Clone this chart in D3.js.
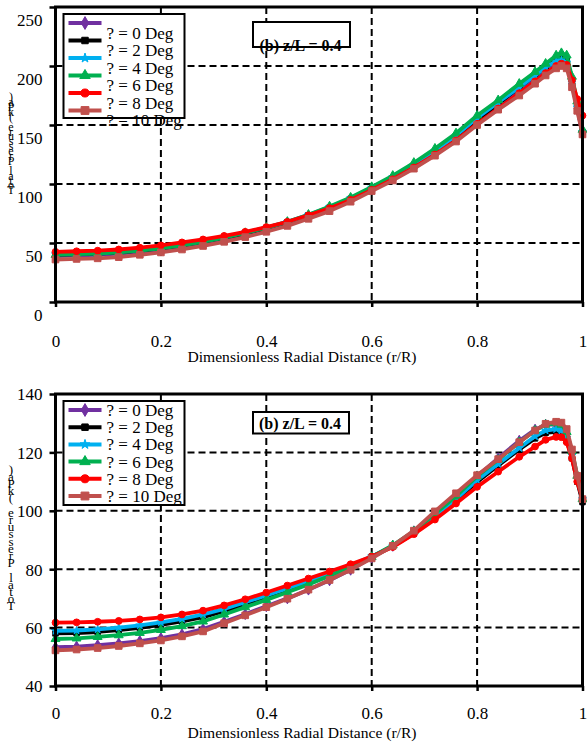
<!DOCTYPE html>
<html>
<head>
<meta charset="utf-8">
<script src="https://cdn.jsdelivr.net/npm/d3@7"></script>
<style>
  body { margin: 0; background: #fff; }
  svg { display: block; font-family: "Liberation Serif", "Times New Roman", serif; }
</style>
</head>
<body>
<svg id="chart" width="587" height="745"></svg>
<script>
// Dimensionless radial positions of the sampled points (r/R)
const radialPos = [0, 0.04, 0.08, 0.12, 0.16, 0.20, 0.24, 0.28, 0.32, 0.36, 0.40, 0.44, 0.48, 0.52, 0.56,
                   0.60, 0.64, 0.68, 0.72, 0.76, 0.80, 0.84, 0.88, 0.91, 0.93, 0.95, 0.96, 0.97, 0.98, 0.99, 1.0];

const seriesNames = ["? = 0 Deg", "? = 2 Deg", "? = 4 Deg", "? = 6 Deg", "? = 8 Deg", "? = 10 Deg"];

// Upper panel: total pressure (kPa)
const upper0  = [39, 39.5, 40, 41, 42.5, 44.5, 47, 50, 53.5, 57.5, 62, 67, 73, 79.5, 87, 96, 105, 115, 127, 140, 154, 167, 180, 190, 197, 203, 205, 203, 185, 164, 143];
const upper2  = [40, 40.5, 41, 42, 43.5, 45.5, 48, 51, 54.5, 58, 62.5, 67.5, 73.5, 80, 87.5, 96, 105, 115, 127, 140, 154, 168, 182, 192, 199, 205, 207, 205, 187, 165, 144];
const upper4  = [40.5, 41, 41.5, 42.5, 44, 46, 48.5, 51.5, 55, 59, 63, 68, 74, 80.5, 88, 97, 106, 116, 128, 141, 156, 169, 182, 192, 199, 204, 205, 203, 186, 165, 144];
const upper6  = [40, 40.5, 41, 42, 43.5, 45.5, 48, 51, 54.5, 58.5, 63, 68, 74, 81, 88.5, 97.5, 107, 118, 130, 143, 158, 171, 185, 195, 202, 209, 211, 209, 191, 170, 146];
const upper8  = [42.5, 43, 43.5, 44.5, 46, 48, 50.5, 53, 56, 59.5, 63.5, 68, 73.5, 79.5, 86.5, 95, 104, 114, 125, 137, 151, 164, 177, 187, 194, 200, 202, 201, 188, 172, 158];
const upper10 = [36, 36.5, 37, 38, 40, 42, 44.5, 47.5, 51, 55, 59.5, 64.5, 70.5, 77, 85, 94, 103, 113, 124, 136, 150, 163, 175, 185, 192, 198, 200, 198, 182, 162, 142];

// Lower panel: total pressure (kPa)
const lower0  = [53.3, 53.5, 54.0, 54.6, 55.4, 56.4, 57.7, 59.5, 62.0, 64.6, 67.3, 70.0, 73.0, 76.2, 79.8, 84.0, 88.0, 93.0, 99.0, 105.2, 111.8, 118.0, 124.0, 127.8, 129.5, 129.5, 129.0, 126.5, 120.0, 111.5, 103.0];
const lower2  = [58.0, 58.1, 58.5, 59.1, 59.9, 60.9, 62.1, 63.6, 65.6, 67.8, 70.2, 72.7, 75.3, 78.1, 81.1, 84.3, 87.8, 92.2, 97.8, 103.5, 109.9, 115.5, 121.0, 124.8, 126.7, 127.0, 126.5, 124.0, 118.0, 110.0, 103.0];
const lower4  = [58.9, 59.0, 59.4, 60.0, 60.8, 61.8, 63.0, 64.5, 66.4, 68.7, 71.0, 73.4, 75.9, 78.5, 81.3, 84.4, 88.0, 92.5, 98.2, 104.0, 110.5, 116.0, 121.5, 125.5, 127.5, 128.0, 127.5, 125.0, 119.0, 111.0, 104.0];
const lower6  = [56.1, 56.3, 56.8, 57.4, 58.2, 59.2, 60.5, 62.1, 64.5, 67.0, 69.5, 72.1, 74.8, 77.7, 80.8, 84.2, 88.2, 93.0, 99.0, 105.0, 111.8, 117.5, 123.5, 127.5, 129.5, 130.0, 129.5, 127.0, 120.5, 112.0, 104.0];
const lower8  = [61.7, 61.8, 62.0, 62.3, 62.8, 63.5, 64.5, 65.8, 67.6, 69.7, 72.0, 74.4, 76.8, 79.2, 81.7, 84.3, 87.6, 92.0, 97.0, 102.5, 108.2, 113.4, 118.5, 122.0, 124.3, 125.3, 125.2, 123.5, 118.0, 110.0, 104.0];
const lower10 = [52.2, 52.5, 53.0, 53.7, 54.6, 55.6, 57.0, 58.7, 61.5, 64.2, 67.0, 69.9, 73.0, 76.3, 79.8, 83.7, 88.0, 93.2, 99.8, 106.0, 112.2, 117.7, 123.5, 127.5, 129.8, 130.5, 130.2, 128.0, 121.0, 112.0, 104.0];

// Axis ticks
const xTicks = [0, 0.2, 0.4, 0.6, 0.8, 1];
const xTickLabels = ["0", "0.2", "0.4", "0.6", "0.8", "1"];
const upperYTicks = [0, 50, 100, 150, 200, 250];
const lowerYTicks = [40, 60, 80, 100, 120, 140];
const xTitle = "Dimensionless Radial Distance (r/R)";
const yTitle = "Total Pressure (kPa)";
const panelTag = "(b) z/L = 0.4";

// Series styling
const colors = ["#7030A0", "#000000", "#00B0F0", "#00B050", "#FF0000", "#C0504D"];
const markers = [d3.symbolDiamond, d3.symbolSquare, d3.symbolStar, d3.symbolTriangle, d3.symbolCircle, d3.symbolSquare];
const markerSizes = [34, 30, 20, 34, 36, 44];

const svg = d3.select("#chart");
const xRange = [55.5, 582.5];

function drawPanel(cfg) {
  const x = d3.scaleLinear().domain([0, 1]).range(xRange);
  const y = d3.scaleLinear().domain(cfg.yDomain).range(cfg.yRange);
  const g = svg.append("g");

  // dashed gridlines
  const grid = g.append("g").attr("stroke", "#000").attr("stroke-width", 2).attr("stroke-dasharray", "7,4");
  grid.selectAll("line.vx").data(xTicks.slice(1, -1)).join("line")
    .attr("x1", d => x(d)).attr("x2", d => x(d))
    .attr("y1", cfg.yRange[1]).attr("y2", cfg.yRange[0]);
  grid.selectAll("line.hy").data(cfg.yTicks.slice(1, -1)).join("line")
    .attr("x1", xRange[0]).attr("x2", xRange[1])
    .attr("y1", d => y(d)).attr("y2", d => y(d));

  // curves
  const line = d3.line().x((d, i) => x(radialPos[i])).y(d => y(d));
  cfg.series.forEach((vals, k) => {
    g.append("path").datum(vals)
      .attr("fill", "none").attr("stroke", colors[k]).attr("stroke-width", 3.8)
      .attr("stroke-linejoin", "round").attr("d", line);
    g.append("g").selectAll("path").data(vals).join("path")
      .attr("transform", (d, i) => `translate(${x(radialPos[i])},${y(d)})`)
      .attr("d", d3.symbol().type(markers[k]).size(markerSizes[k]))
      .attr("fill", colors[k]).attr("stroke", colors[k]).attr("stroke-width", 1);
  });

  // frame
  g.append("rect")
    .attr("x", xRange[0]).attr("y", cfg.yRange[1])
    .attr("width", xRange[1] - xRange[0]).attr("height", cfg.yRange[0] - cfg.yRange[1])
    .attr("fill", "none").attr("stroke", "#000").attr("stroke-width", 3);

  // y axis ticks and labels
  const yAxis = d3.axisLeft(y).tickValues(cfg.yTicks).tickSize(6).tickFormat(d3.format("d"));
  const ya = g.append("g").attr("transform", `translate(${xRange[0]},0)`).call(yAxis);
  ya.select(".domain").remove();
  ya.selectAll(".tick line").attr("stroke", "#000").attr("stroke-width", 2.5);
  ya.selectAll(".tick text")
    .attr("x", -13).attr("dy", "0.35em")
    .attr("transform", `translate(0,${cfg.labelShift})`)
    .attr("font-size", 17).attr("font-family", "Liberation Serif").attr("fill", "#000");

  // x axis ticks and labels
  const xAxis = d3.axisBottom(x).tickValues(xTicks).tickSize(5).tickFormat((d, i) => xTickLabels[i]);
  const xa = g.append("g").attr("transform", `translate(0,${cfg.yRange[0]})`).call(xAxis);
  xa.select(".domain").remove();
  xa.selectAll(".tick line").attr("stroke", "#000").attr("stroke-width", 2.5);
  xa.selectAll(".tick text")
    .attr("y", cfg.xLabelY - cfg.yRange[0]).attr("dy", "0.35em")
    .attr("font-size", 17).attr("font-family", "Liberation Serif").attr("fill", "#000");

  // x title
  g.append("text").attr("x", 302).attr("y", cfg.xTitleY).attr("dy", "0.35em")
    .attr("text-anchor", "middle").attr("font-size", 15.6).text(xTitle);

  // y title: upright letters stacked from the bottom up
  const chars = Array.from(yTitle).reverse();
  g.append("g").selectAll("text").data(chars).join("text")
    .attr("x", 11)
    .attr("y", (d, i) => cfg.yTitleTop + i * cfg.yTitleStep)
    .attr("dy", "0.35em").attr("text-anchor", "middle").attr("font-size", cfg.yTitleSize)
    .text(d => d);

  // tag box
  g.append("rect").attr("x", cfg.tag.x).attr("y", cfg.tag.y)
    .attr("width", cfg.tag.w).attr("height", cfg.tag.h)
    .attr("fill", "#fff").attr("stroke", "#000").attr("stroke-width", 2);
  g.append("text").attr("x", cfg.tag.x + cfg.tag.w / 2 - 1).attr("y", cfg.tag.textY).attr("dy", "0.35em")
    .attr("text-anchor", "middle").attr("font-size", 16).attr("font-weight", "bold")
    .attr("font-family", "Liberation Serif").text(panelTag);

  // legend
  const L = cfg.legend;
  g.append("rect").attr("x", L.x).attr("y", L.y).attr("width", L.w).attr("height", L.h)
    .attr("fill", "#fff").attr("stroke", "#000").attr("stroke-width", 2);
  seriesNames.forEach((name, k) => {
    const ly = L.rowY + k * L.step;
    g.append("line").attr("x1", L.x + 5).attr("x2", L.x + 38).attr("y1", ly).attr("y2", ly)
      .attr("stroke", colors[k]).attr("stroke-width", 4);
    g.append("path").attr("transform", `translate(${L.x + 21.5},${ly})`)
      .attr("d", d3.symbol().type(markers[k]).size(markerSizes[k] * 1.4))
      .attr("fill", colors[k]).attr("stroke", colors[k]);
    g.append("text").attr("x", L.x + 43).attr("y", ly + L.textShift).attr("dy", "0.35em")
      .attr("font-size", 17).text(name);
  });
}

drawPanel({
  yDomain: [0, 250], yRange: [302, 7], yTicks: upperYTicks, labelShift: 13,
  xLabelY: 341, xTitleY: 357, yTitleTop: 97, yTitleStep: 4.9, yTitleSize: 12,
  series: [upper0, upper2, upper4, upper6, upper8, upper10],
  tag: { x: 253, y: 22, w: 97, h: 25, textY: 45 },
  legend: { x: 63.5, y: 14, w: 121, h: 104, rowY: 23, step: 17.5, textShift: 10 }
});

drawPanel({
  yDomain: [40, 140], yRange: [686, 394], yTicks: lowerYTicks, labelShift: 0,
  xLabelY: 713.5, xTitleY: 733, yTitleTop: 469, yTitleStep: 7.2, yTitleSize: 13,
  series: [lower0, lower2, lower4, lower6, lower8, lower10],
  tag: { x: 253, y: 412, w: 96, h: 21.5, textY: 423 },
  legend: { x: 63.5, y: 401, w: 121, h: 104, rowY: 410, step: 17.2, textShift: 0 }
});
</script>
</body>
</html>
